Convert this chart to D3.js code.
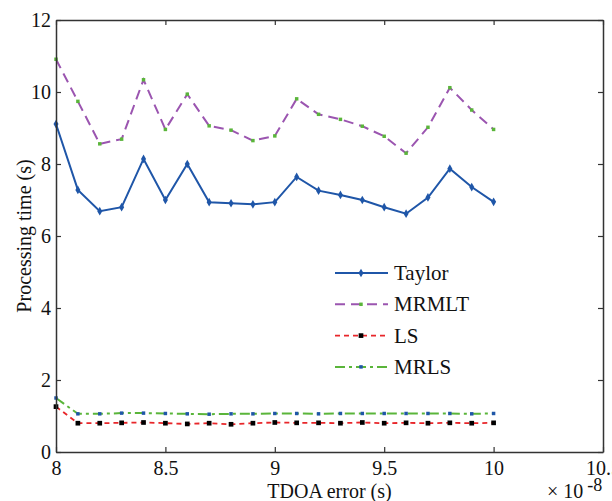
<!DOCTYPE html>
<html><head><meta charset="utf-8">
<script src="https://cdn.jsdelivr.net/npm/d3@7"></script>
</head><body style="margin:0"><svg id="c" width="612" height="501" font-family="Tinos, 'Times New Roman', 'Liberation Serif', serif"></svg>
<script>
const xValues = [8.0,8.1,8.2,8.3,8.4,8.5,8.6,8.7,8.8,8.9,9.0,9.1,9.2,9.3,9.4,9.5,9.6,9.7,9.8,9.9,10.0];
const taylor = [9.11,7.28,6.69,6.80,8.14,7.00,8.00,6.94,6.91,6.88,6.94,7.64,7.26,7.14,7.00,6.80,6.62,7.07,7.87,7.36,6.95];
const mrmlt  = [10.91,9.74,8.56,8.69,10.34,8.96,9.94,9.06,8.94,8.65,8.78,9.81,9.38,9.24,9.05,8.77,8.30,9.02,10.12,9.50,8.96];
const ls     = [1.26,0.80,0.80,0.81,0.82,0.80,0.78,0.80,0.77,0.80,0.82,0.81,0.81,0.80,0.82,0.80,0.81,0.80,0.81,0.80,0.81];
const mrls   = [1.50,1.06,1.06,1.08,1.08,1.07,1.06,1.05,1.06,1.06,1.07,1.07,1.06,1.07,1.07,1.07,1.07,1.07,1.07,1.06,1.07];
const xTicks = [8,8.5,9,9.5,10,10.5];
const yTicks = [0,2,4,6,8,10,12];
const seriesNames = ["Taylor","MRMLT","LS","MRLS"];

const FONT = "Tinos, 'Times New Roman', 'Liberation Serif', serif";
const svg = d3.select("#c");
const L=56, R=603, T=20, B=452;
const x = d3.scaleLinear().domain([8,10.5]).range([L,R]);
const y = d3.scaleLinear().domain([0,12]).range([B,T]);

const series = [
  {name:seriesNames[0], data:taylor, color:"#1f56a8", width:2, dash:null, mk:"diamond", mkColor:"#1f56a8", mkSize:22},
  {name:seriesNames[1], data:mrmlt, color:"#9b55b0", width:2, dash:"10,6", mk:"dot", mkColor:"#5ab53a", mkSize:12},
  {name:seriesNames[2], data:ls, color:"#e8262a", width:1.8, dash:"5,4", mk:"square", mkColor:"#000", mkSize:22},
  {name:seriesNames[3], data:mrls, color:"#5ab53a", width:2, dash:"10,4,3,4", mk:"dot", mkColor:"#1f56a8", mkSize:12}
];

const line = d3.line().x((d,i)=>x(xValues[i])).y(d=>y(d));
const symType = {diamond:d3.symbolDiamond, dot:d3.symbolSquare, square:d3.symbolSquare};

series.forEach(s=>{
  svg.append("path").attr("d",line(s.data)).attr("fill","none")
    .attr("stroke",s.color).attr("stroke-width",s.width)
    .attr("stroke-dasharray",s.dash);
  svg.selectAll(null).data(s.data).enter().append("path")
    .attr("transform",(d,i)=>`translate(${x(xValues[i])},${y(d)})`)
    .attr("d",d3.symbol().type(symType[s.mk]).size(s.mkSize))
    .attr("fill",s.mkColor);
});

const axColor="#333";
const gB = svg.append("g").attr("transform",`translate(0,${B})`)
  .call(d3.axisBottom(x).tickValues(xTicks).tickSizeInner(-5).tickSizeOuter(0).tickPadding(9).tickFormat(d3.format("")));
const gT = svg.append("g").attr("transform",`translate(0,${T})`)
  .call(d3.axisTop(x).tickValues(xTicks).tickSizeInner(-5).tickSizeOuter(0).tickFormat(""));
const gL = svg.append("g").attr("transform",`translate(${L},0)`)
  .call(d3.axisLeft(y).tickValues(yTicks).tickSizeInner(-5).tickSizeOuter(0).tickPadding(5));
const gR = svg.append("g").attr("transform",`translate(${R},0)`)
  .call(d3.axisRight(y).tickValues(yTicks).tickSizeInner(-5).tickSizeOuter(0).tickFormat(""));
[gB,gT,gL,gR].forEach(g=>{
  g.attr("font-family",null).attr("font-size",null);
  g.selectAll(".domain").attr("stroke",axColor).attr("stroke-width",1.5);
  g.selectAll(".tick line").attr("stroke",axColor).attr("stroke-width",1.2);
});

svg.append("text").attr("x",(L+R)/2).attr("y",498).attr("text-anchor","middle")
  .text("TDOA error (s)");
const mult = svg.append("text").attr("x",547).attr("y",498);
mult.append("tspan").text("× 10");
mult.append("tspan").attr("class","sup").attr("dy",-7).attr("dx",4).text("-8");
svg.append("text").attr("transform",`translate(31,${(T+B)/2}) rotate(-90)`)
  .attr("text-anchor","middle").text("Processing time (s)");

const lg = svg.append("g");
series.forEach((s,i)=>{
  const yy = 273 + i*31.3;
  lg.append("line").attr("x1",335).attr("x2",388).attr("y1",yy).attr("y2",yy)
    .attr("stroke",s.color).attr("stroke-width",s.width).attr("stroke-dasharray",s.dash);
  lg.append("path").attr("transform",`translate(361,${yy})`)
    .attr("d",d3.symbol().type(symType[s.mk]).size(s.mkSize)).attr("fill",s.mkColor);
  lg.append("text").attr("class","leg").attr("x",394).attr("y",yy+7).text(s.name);
});

svg.selectAll("text").attr("font-family",FONT).attr("font-size",20).attr("fill","#111")
  .style("font-family",FONT).style("font-size","20px");
svg.selectAll("text.leg").attr("font-size",21).style("font-size","21px");
svg.selectAll("tspan.sup").attr("font-size",18).style("font-size","18px");
</script></body></html>
